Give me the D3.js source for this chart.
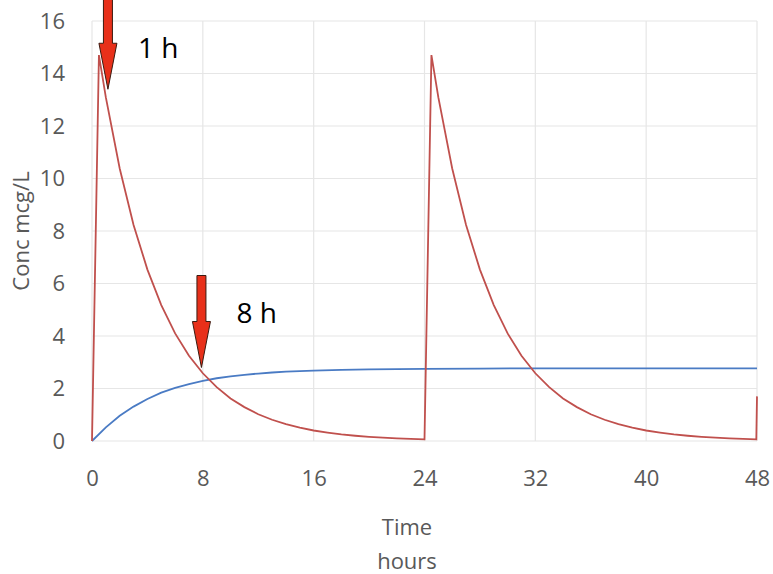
<!DOCTYPE html>
<html>
<head>
<meta charset="utf-8">
<script src="https://cdn.jsdelivr.net/npm/d3@7"></script>
<style>
  body { margin: 0; background: #fff; }
  svg { font-family: "Open Sans", "Liberation Sans", sans-serif; }
</style>
</head>
<body>
<svg id="chart" width="773" height="574"></svg>
<script>
// red: concentration with a dose every 24 h
var doseTimes = [0, 0.5, 1, 2, 3, 4, 5, 6, 7, 8, 9, 10, 11, 12, 13, 14, 15, 16, 17, 18, 19, 20, 21, 22, 23, 24,
                 24.5, 25, 26, 27, 28, 29, 30, 31, 32, 33, 34, 35, 36, 37, 38, 39, 40, 41, 42, 43, 44, 45, 46, 47, 47.95, 48]
var doseConc = [0, 14.7, 13.09, 10.38, 8.23, 6.53, 5.18, 4.10, 3.25, 2.58, 2.05, 1.62, 1.29, 1.02, 0.81, 0.64, 0.51, 0.40, 0.32, 0.25, 0.20, 0.16, 0.13, 0.10, 0.08, 0.06,
                14.7, 13.09, 10.38, 8.23, 6.53, 5.18, 4.10, 3.25, 2.58, 2.05, 1.62, 1.29, 1.02, 0.81, 0.64, 0.51, 0.40, 0.32, 0.25, 0.20, 0.16, 0.13, 0.10, 0.08, 0.06, 1.7]

// blue: average concentration
var avgTimes = [0, 1, 2, 3, 4, 5, 6, 7, 8, 9, 10, 11, 12, 13, 14, 15, 16, 18, 20, 22, 24, 28, 32, 36, 40, 44, 48]
var avgConc = [0, 0.52, 0.96, 1.31, 1.60, 1.84, 2.02, 2.17, 2.29, 2.39, 2.46, 2.52, 2.57, 2.61, 2.64, 2.66, 2.68, 2.71, 2.73, 2.74, 2.75, 2.76, 2.77, 2.77, 2.77, 2.77, 2.77]

var xTicks = [0, 8, 16, 24, 32, 40, 48]
var yTicks = [0, 2, 4, 6, 8, 10, 12, 14, 16]

// arrows: time pointed at, conc of the tip, label
var arrowTimes = [1.15, 7.9]
var arrowTips = [13.4, 2.8]
var arrowLabels = ["1 h", "8 h"]

var svg = d3.select("#chart")
var plotLeft = 92, plotRight = 757, plotTop = 21, plotBottom = 441

var x = d3.scaleLinear().domain([0, 48]).range([plotLeft, plotRight])
var y = d3.scaleLinear().domain([0, 16]).range([plotBottom, plotTop])

// grid
svg.append("g").selectAll("line").data(yTicks).enter().append("line")
    .attr("x1", plotLeft).attr("x2", plotRight)
    .attr("y1", (d) => y(d)).attr("y2", (d) => y(d))
    .attr("stroke", "#e6e6e6").attr("stroke-width", 1.2)
svg.append("g").selectAll("line").data(xTicks).enter().append("line")
    .attr("y1", plotTop).attr("y2", plotBottom)
    .attr("x1", (d) => x(d)).attr("x2", (d) => x(d))
    .attr("stroke", "#e6e6e6").attr("stroke-width", 1.2)

// axes, no domain lines
var yAxis = svg.append("g").attr("transform", "translate(" + plotLeft + ",0)")
    .call(d3.axisLeft(y).tickValues(yTicks).tickSize(0).tickPadding(27))
var xAxis = svg.append("g").attr("transform", "translate(0," + plotBottom + ")")
    .call(d3.axisBottom(x).tickValues(xTicks).tickSize(0).tickPadding(29))
svg.selectAll(".domain").remove()
svg.selectAll(".tick text")
    .attr("font-size", 22).attr("fill", "#595959")
    .attr("font-family", "'Open Sans', sans-serif")

// lines
var line = d3.line()
    .x((d) => x(d[0]))
    .y((d) => y(d[1]))

svg.append("path")
    .datum(avgTimes.map((t, i) => [t, avgConc[i]]))
    .attr("d", line)
    .attr("fill", "none").attr("stroke", "#4a7bc4").attr("stroke-width", 1.8)

svg.append("path")
    .datum(doseTimes.map((t, i) => [t, doseConc[i]]))
    .attr("d", line)
    .attr("fill", "none").attr("stroke", "#c0504d").attr("stroke-width", 1.8)

// arrows
var shaftLen = [45, 46], headLen = 46
arrowTimes.forEach(function(t, i) {
    let tx = x(t), ty = y(arrowTips[i])
    let hy = ty - headLen
    let sy = hy - shaftLen[i]
    if (i == 0) sy = -5
    let pts = [[tx - 4.5, sy], [tx + 4.5, sy], [tx + 4.5, hy], [tx + 9, hy], [tx, ty], [tx - 9, hy], [tx - 4.5, hy]]
    svg.append("path")
        .attr("d", d3.line()(pts) + "Z")
        .attr("fill", "#e8301a").attr("stroke", "#3a1a10").attr("stroke-width", 1)
    svg.append("text")
        .attr("x", tx + (i == 0 ? 30 : 35)).attr("y", i == 0 ? 58 : 323)
        .attr("font-size", 28).attr("fill", "#000")
        .attr("font-family", "'Open Sans', sans-serif")
        .text(arrowLabels[i])
})

// axis titles
svg.append("text")
    .attr("transform", "translate(29," + y(8) + ") rotate(-90)")
    .attr("text-anchor", "middle")
    .attr("font-size", 22).attr("fill", "#595959")
    .text("Conc mcg/L")
svg.append("text")
    .attr("x", 407).attr("y", 535)
    .attr("text-anchor", "middle")
    .attr("font-size", 22).attr("fill", "#595959")
    .text("Time")
svg.append("text")
    .attr("x", 407).attr("y", 569)
    .attr("text-anchor", "middle")
    .attr("font-size", 22).attr("fill", "#595959")
    .text("hours")
</script>
</body>
</html>
